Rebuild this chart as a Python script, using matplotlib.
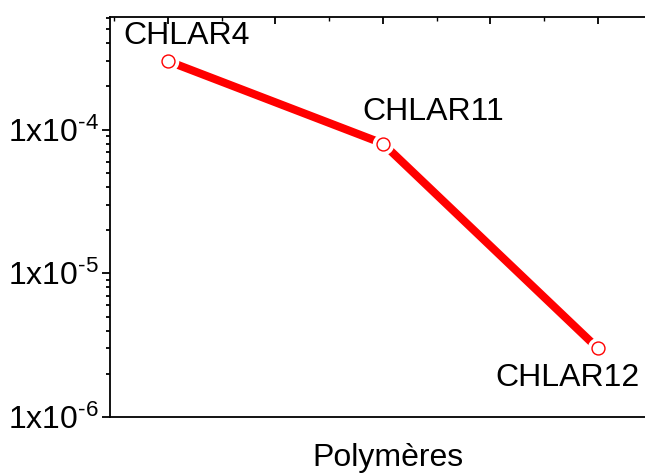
import numpy as np
import matplotlib.pyplot as plt
from matplotlib.ticker import FixedLocator, NullFormatter, MultipleLocator

plt.rcParams['font.family'] = ['Liberation Sans', 'DejaVu Sans']
plt.rcParams['mathtext.fontset'] = 'custom'
plt.rcParams['mathtext.rm'] = 'Liberation Sans'

# donnees
polymeres = ['CHLAR4', 'CHLAR11', 'CHLAR12']
x = [1, 2, 3]
valeurs = [3.0e-4, 8.0e-5, 3.0e-6]
ytick_vals = [1e-6, 1e-5, 1e-4]
ytick_labels = [r'$\mathregular{1x10^{\text{-}6}}$', r'$\mathregular{1x10^{\text{-}5}}$',
                r'$\mathregular{1x10^{\text{-}4}}$']
decalages = [(19, 25), (50, 32), (-30, -30)]  # pixels

fig = plt.figure(figsize=(6.45, 4.73), dpi=100)
ax = fig.add_axes([0.1705, 0.1184, 0.8295, 0.846])

ax.plot(x, valeurs, color='red', lw=5.8, solid_capstyle='butt', zorder=2)
# blanc autour des points (ecart comme dans Origin)
ax.plot(x, valeurs, ls='none', marker='o', ms=14.5, mfc='white', mec='white', zorder=3)
ax.plot(x, valeurs, ls='none', marker='o', ms=9.3, mfc='white', mec='red', mew=1.0, zorder=4)

for xi, yi, nom, d in zip(x, valeurs, polymeres, decalages):
    ax.annotate(nom, (xi, yi), xytext=d, textcoords='offset pixels',
                ha='center', va='center', fontsize=23)

ax.set_yscale('log')
ax.set_ylim(1e-6, 6.1e-4)
ax.set_xlim(0.73, 3.219)

ax.set_yticks(ytick_vals)
ax.set_yticklabels(ytick_labels)
ax.yaxis.set_minor_locator(FixedLocator([k * 10.0**e for e in range(-6, -3) for k in range(2, 10)]))
ax.yaxis.set_minor_formatter(NullFormatter())
ax.tick_params(axis='y', which='major', direction='out', length=6, width=1.3, labelsize=23, pad=2)
ax.tick_params(axis='y', which='minor', direction='out', length=3, width=1.3)

ax.xaxis.set_major_locator(MultipleLocator(0.5))
ax.xaxis.set_minor_locator(MultipleLocator(0.25))
ax.tick_params(axis='x', which='both', bottom=False, top=True, labelbottom=False, direction='in')
ax.tick_params(axis='x', which='major', length=5, width=1.3)
ax.tick_params(axis='x', which='minor', length=3, width=1.0)

ax.spines['right'].set_visible(False)
for s in ['left', 'top', 'bottom']:
    ax.spines[s].set_linewidth(1.3)

ax.set_xlabel('Polymères', fontsize=23, labelpad=18)
ax.xaxis.set_label_coords(0.519, -0.065)
ax.xaxis.label.set_va('top')

fig.savefig('out.png', dpi=100)
